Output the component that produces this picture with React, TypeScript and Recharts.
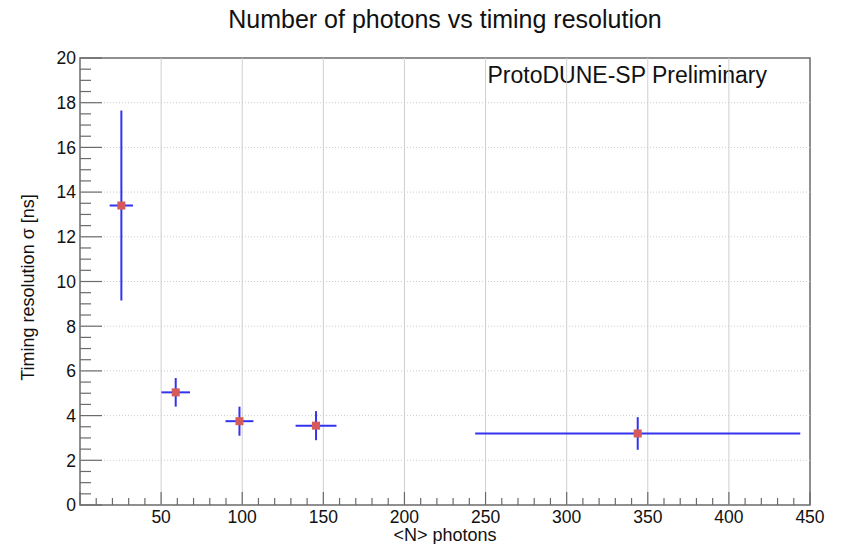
import { ScatterChart, Scatter, XAxis, YAxis, ErrorBar, ReferenceLine, ReferenceArea, Label } from 'recharts';

// <N> photons per bin and its half-width
const nPhotons = [25.5, 59, 98.3, 145.5, 343.8];
const nPhotonsErr = [7.2, 8.8, 8.6, 12.6, 100.2];
// timing resolution sigma [ns] and its error
const sigmaNs = [13.4, 5.04, 3.75, 3.55, 3.2];
const sigmaErr = [4.25, 0.64, 0.65, 0.65, 0.73];

const xMajorTicks = [50, 100, 150, 200, 250, 300, 350, 400, 450];
const yMajorTicks = [0, 2, 4, 6, 8, 10, 12, 14, 16, 18, 20];
const X_MAX = 450;
const Y_MAX = 20;

// minor ticks: every 10 on x, every 0.5 on y
const xAllTicks = Array.from({ length: X_MAX / 10 + 1 }, (_, i) => i * 10);
const yAllTicks = Array.from({ length: Y_MAX * 2 + 1 }, (_, i) => i / 2);

const FONT = '"Liberation Sans", Arial, Helvetica, sans-serif';
const AXIS_COLOR = '#6b6b6b';
const BAR_COLOR = '#3333ee';
const MARKER_COLOR = '#d65a5a';

const data = nPhotons.map((x, i) => ({ x, y: sigmaNs[i], ex: nPhotonsErr[i], ey: sigmaErr[i] }));

function XTick(props: any) {
  const { x, y, payload } = props;
  const v = payload.value;
  const major = v % 50 === 0;
  return (
    <g>
      <line x1={x} x2={x} y1={y} y2={y - (major ? 13 : 7)} stroke={AXIS_COLOR} strokeWidth={1.2} />
      {major && v > 0 && (
        <text x={x} y={y + 18} textAnchor="middle" fontSize={17.5} fontFamily={FONT} fill="#111">
          {v}
        </text>
      )}
    </g>
  );
}

function YTick(props: any) {
  const { x, y, payload } = props;
  const v = payload.value;
  const major = v % 2 === 0;
  return (
    <g>
      <line x1={x} x2={x + (major ? 22 : 11)} y1={y} y2={y} stroke={AXIS_COLOR} strokeWidth={1.2} />
      {major && (
        <text x={x - 4} y={y} dy="0.36em" textAnchor="end" fontSize={17.5} fontFamily={FONT} fill="#111">
          {v}
        </text>
      )}
    </g>
  );
}

function Marker(props: any) {
  const { cx, cy } = props;
  return <rect x={cx - 4} y={cy - 4} width={8} height={8} fill={MARKER_COLOR} />;
}

export default function App() {
  return (
    <div style={{ position: 'absolute', left: 0, top: 0, background: '#fff' }}>
      <ScatterChart width={845} height={544} margin={{ top: 58, right: 35, bottom: 0, left: 0 }}>
        <XAxis
          type="number"
          dataKey="x"
          domain={[0, X_MAX]}
          ticks={xAllTicks}
          interval={0}
          height={39}
          tickSize={0}
          tickMargin={0}
          axisLine={false}
          tick={<XTick />}
          allowDataOverflow
        >
          <Label
            content={({ viewBox }: any) => (
              <text
                x={viewBox.x + viewBox.width / 2}
                y={viewBox.y + 36}
                textAnchor="middle"
                fontSize={18}
                fontFamily={FONT}
                fill="#111"
              >
                {'<N> photons'}
              </text>
            )}
          />
        </XAxis>
        <YAxis
          type="number"
          dataKey="y"
          domain={[0, Y_MAX]}
          ticks={yAllTicks}
          interval={0}
          width={80}
          tickSize={0}
          tickMargin={0}
          axisLine={false}
          tick={<YTick />}
          allowDataOverflow
        >
          <Label
            content={({ viewBox }: any) => {
              const cx = 28;
              const cy = viewBox.y + viewBox.height / 2 + 6;
              return (
                <text
                  x={cx}
                  y={cy}
                  textAnchor="middle"
                  dominantBaseline="central"
                  transform={`rotate(-90, ${cx}, ${cy})`}
                  fontSize={18}
                  fontFamily={FONT}
                  fill="#111"
                >
                  Timing resolution σ [ns]
                </text>
              );
            }}
          />
        </YAxis>

        {xMajorTicks.slice(0, -1).map((v) => (
          <ReferenceLine key={'gx' + v} x={v} stroke="#cfcfcf" strokeWidth={1} />
        ))}
        {yMajorTicks.slice(1, -1).map((v) => (
          <ReferenceLine key={'gy' + v} y={v} stroke="#cccccc" strokeWidth={1} strokeDasharray="1 2" />
        ))}

        <ReferenceArea
          x1={0}
          x2={X_MAX}
          y1={0}
          y2={Y_MAX}
          fill="none"
          stroke={AXIS_COLOR}
          strokeWidth={1.5}
          fillOpacity={0}
        >
          <Label
            content={({ viewBox }: any) => (
              <g fontFamily={FONT} fill="#111">
                <text x={viewBox.x + viewBox.width / 2} y={28} textAnchor="middle" fontSize={25}>
                  Number of photons vs timing resolution
                </text>
                <text x={viewBox.x + viewBox.width - 43} y={viewBox.y + 25} textAnchor="end" fontSize={23}>
                  ProtoDUNE-SP Preliminary
                </text>
              </g>
            )}
          />
        </ReferenceArea>

        <Scatter data={data} shape={<Marker />} isAnimationActive={false}>
          <ErrorBar dataKey="ex" direction="x" width={0} stroke={BAR_COLOR} strokeWidth={2} />
          <ErrorBar dataKey="ey" direction="y" width={0} stroke={BAR_COLOR} strokeWidth={2} />
        </Scatter>
      </ScatterChart>
    </div>
  );
}
